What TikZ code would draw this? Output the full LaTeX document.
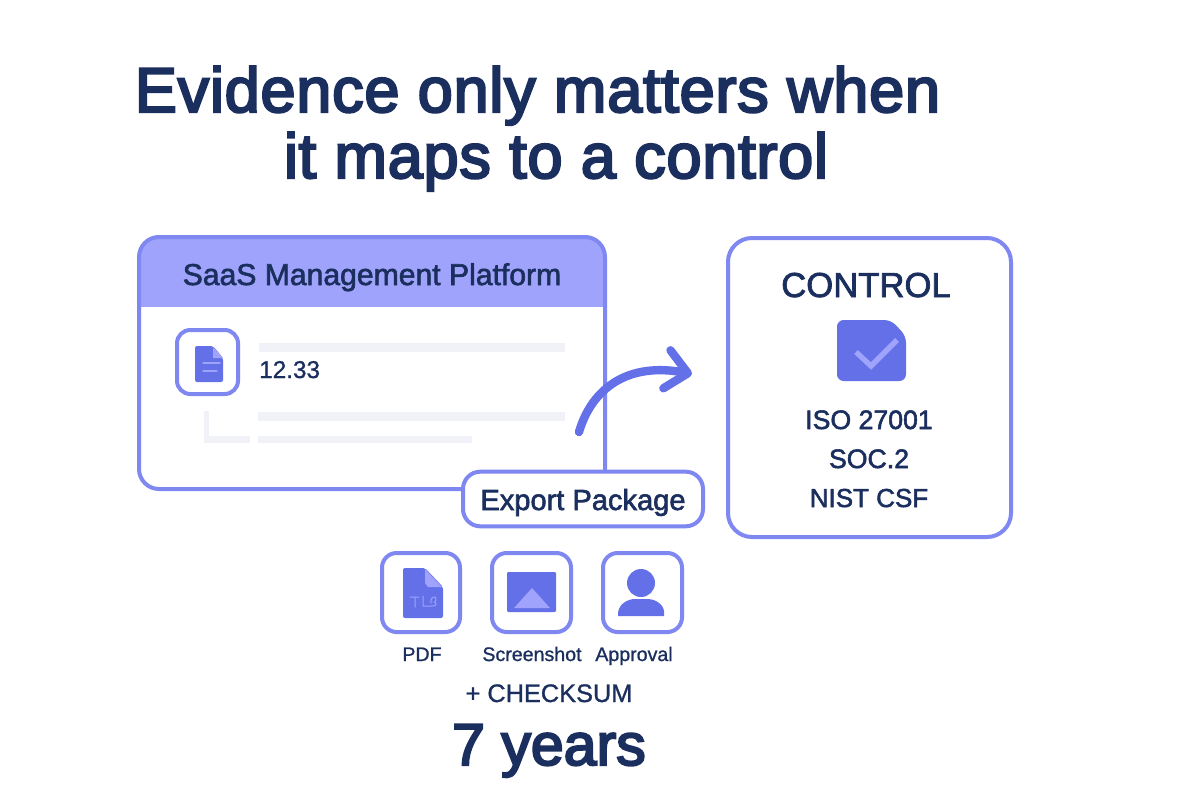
\documentclass[tikz,border=0pt]{standalone}
\usepackage{fontspec}
\setmainfont{Liberation Sans}
\newfontfamily\medf[FakeBold=2.0]{Liberation Sans}
\newfontfamily\lightf[FakeBold=1.0]{Liberation Sans}
\newfontfamily\semif[FakeBold=3.6,LetterSpace=1.2]{Liberation Sans}
\newfontfamily\yearf[FakeBold=3.6]{Liberation Sans}
\usetikzlibrary{arrows.meta}
\definecolor{ink}{HTML}{1B2F5E}
\definecolor{edge}{HTML}{7F87F1}
\definecolor{band}{HTML}{9FA3FB}
\definecolor{solid}{HTML}{6470E8}
\definecolor{pale}{HTML}{F1F2F7}
\newcommand{\fs}[1]{\fontsize{#1}{#1}\selectfont}
\tikzset{
  x=0.75pt,y=-0.75pt,
  txt/.style={text=ink,inner sep=0pt,align=center,anchor=base},
  card/.style={draw=edge,line width=3pt},
  tile/.style={draw=edge,line width=3pt,fill=white,rounded corners=11pt},
  glyph/.style={fill=solid,draw=none},
  lightline/.style={draw=band,line width=1.1pt,line cap=round,line join=round},
  bar/.style={fill=pale,draw=none},
  flow/.style={draw=solid,line width=6.3pt,line cap=round,line join=round,
    -{Straight Barb[length=16pt,width=29pt,line width=6.3pt,round]}}
}
\begin{document}
\begin{tikzpicture}
\useasboundingbox (0,0) rectangle (1200,800);
\fill[white] (0,0) rectangle (1200,800);
% title
\node[txt] (title1) at (537.5,112) {\semif\fs{47.3}Evidence only matters when};
\node[txt] (title2) at (556,178) {\semif\fs{47.3}it maps to a control};
% platform card
\begin{scope}
\clip[rounded corners=15pt] (139,237) rectangle (605,489);
\fill[band] (139,237) rectangle (605,307);
\end{scope}
\draw[card,rounded corners=15pt] (139,237) rectangle (605,489);
\node[txt] (platform) at (372,285) {\medf\fs{22.6}SaaS Management Platform};
% doc tile
\draw[tile,rounded corners=10pt] (177,330) rectangle (238,394);
\fill[glyph,rounded corners=1.5pt] (195,346) -- (213,346) -- (223,358) -- (223,382) -- (195,382) -- cycle;
\fill[band] (213,347) -- (223,358) -- (213,358) -- cycle;
\draw[lightline,line width=.9pt] (203,363) -- (220,363) (203,371) -- (217,371);
\node[txt,anchor=base west] (amount) at (259,378) {\lightf\fs{18.2}12.33};
\fill[bar] (259,343) rectangle (565,352);
\fill[bar] (258,412) rectangle (565,421);
\fill[bar] (258,436) rectangle (472,443);
\fill[bar] (204,411) rectangle (209,443);
\fill[bar] (204,436) rectangle (250,443);
% control card
\draw[card,rounded corners=18pt] (728,238) rectangle (1011,537);
\node[txt] (control) at (866,297) {\medf\fs{26}CONTROL};
\fill[glyph,rounded corners=5pt] (837,320) -- (891,320) -- (906,336) -- (906,381) -- (837,381) -- cycle;
\draw[draw=band,line width=4pt] (856,352) -- (871,366) -- (897,340);
\node[txt] (iso) at (869,429) {\medf\fs{20}ISO 27001};
\node[txt] (soc) at (869,468) {\medf\fs{20}SOC.2};
\node[txt] (nist) at (869,507) {\medf\fs{19.5}NIST CSF};
% export
\node[card,fill=white,rounded corners=13pt,minimum width=180pt,minimum height=41pt,inner sep=0pt,text=ink,text height=16.5pt,text depth=0pt] (export) at (583,499) {\medf\fs{21.8}Export Package};
% arrow
\coordinate (flowstart) at (579,432);
\coordinate (flowend) at (692,374);
\draw[flow] (flowstart) .. controls (592,388) and (628,362) .. (flowend);
% tiles
\draw[tile] (382,553) rectangle (460,632);
\draw[tile] (492,553) rectangle (571,632);
\draw[tile] (603,553) rectangle (682,632);
% pdf glyph
\fill[glyph,rounded corners=1.5pt] (403,568) -- (425,568) -- (443,587) -- (443,618) -- (403,618) -- cycle;
\fill[band] (425,569) -- (442,587) -- (428,587) -- (425,583) -- cycle;
\draw[lightline,line width=.75pt] (410,597) -- (419,597) (415,597) -- (415,607) (423,596) -- (423,606) -- (431,606)
  (431,603) .. controls (430,596) and (437,595) .. (436,600) .. controls (435,603) and (433,602) .. (434,602) .. controls (438,603) and (436,607) .. (431,606);
% picture glyph
\fill[glyph,rounded corners=.8pt] (507,572) rectangle (556,612);
\fill[band] (514,608) -- (532,588) -- (550,608) -- cycle;
% person glyph
\fill[glyph] (641,583) circle[radius=14];
\fill[glyph] (618,616) .. controls (617,604) and (628,599) .. (635,599) -- (647,599) .. controls (656,599) and (666,605) .. (664,616) -- cycle;
% labels
\node[txt] (pdf) at (422,661) {\lightf\fs{14.7}PDF};
\node[txt] (shot) at (532,661) {\lightf\fs{14.7}Screenshot};
\node[txt] (appr) at (634,661) {\lightf\fs{14.7}Approval};
\node[txt] (check) at (549,702) {\lightf\fs{19}+ CHECKSUM};
\node[txt] (years) at (549,765) {\yearf\fs{44.3}7 years};
\end{tikzpicture}
\end{document}
